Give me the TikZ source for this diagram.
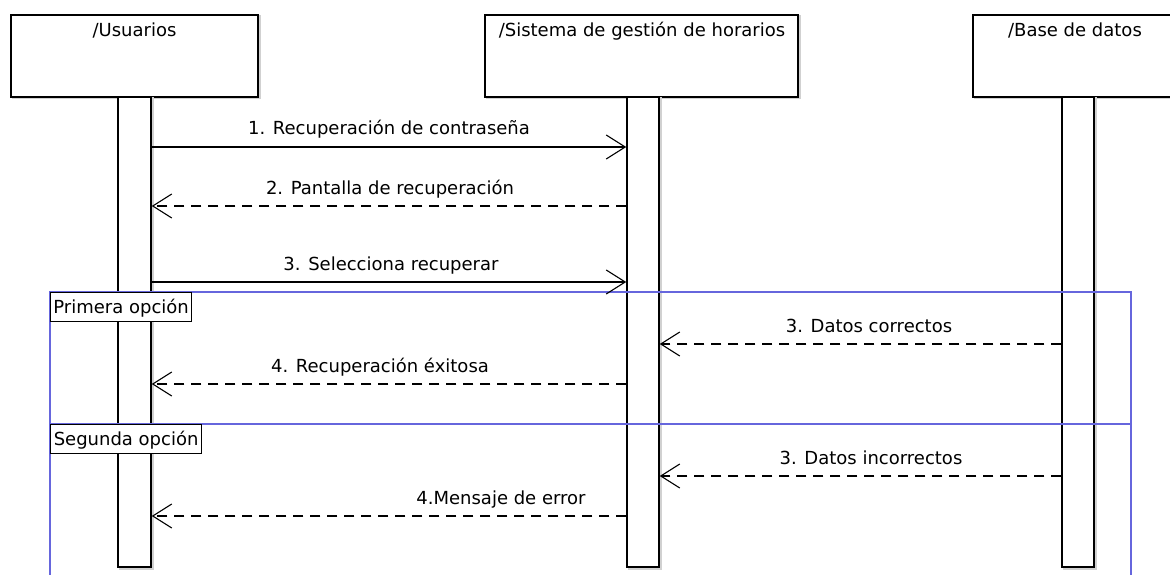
\documentclass[tikz,border=0pt]{standalone}
\usepackage{fontspec}
\setmainfont{DejaVu Sans}
\usetikzlibrary{arrows.meta}
\definecolor{framec}{RGB}{102,102,221}
\begin{document}
\begin{tikzpicture}[x=1pt,y=-1pt,
  font=\fontsize{18}{21}\selectfont,
  shadowed/.style={preaction={draw=black!18, line width=2pt, transform canvas={shift={(1.5pt,-1.5pt)}}}},
  lifebox/.style={draw, line width=1.5pt, fill=white, rectangle, inner sep=0pt, minimum height=82pt, shadowed},
  actbar/.style={draw, line width=1.5pt, fill=white, rectangle, inner sep=0pt, minimum height=470pt, shadowed},
  title/.style={anchor=base, inner sep=0pt},
  lbl/.style={anchor=base, inner sep=0pt},
  optbox/.style={draw, line width=1.2pt, fill=white, anchor=north west, inner xsep=2.5pt, inner ysep=0pt,
                 minimum height=29pt, text height=13pt, text depth=0pt},
  fragment/.style={draw=framec, line width=1.3pt},
  tipv/.style={-{Straight Barb[length=19pt,width=24pt,line width=1.1pt]}},
  msg/.style={line width=1.3pt, tipv},
  reply/.style={line width=1.3pt, tipv, dash pattern=on 10pt off 7pt}]
\useasboundingbox (0,0) rectangle (1170,575);
\clip (0,0) rectangle (1170,575);

% lifeline heads
\node[lifebox, minimum width=247pt] (uBox) at (134.5,56) {};
\node[lifebox, minimum width=313pt] (sBox) at (641.5,56) {};
\node[lifebox, minimum width=204pt] (bBox) at (1075,56) {};
\node[title] (uT) at (134.5,37) {/Usuarios};
\node[title] (sT) at (642,37) {/Sistema de gestión de horarios};
\node[title] (bT) at (1075,37) {/Base de datos};

% activation bars
\node[actbar, minimum width=33pt] (uBar) at (134.5,332) {};
\node[actbar, minimum width=32pt] (sBar) at (643,332) {};
\node[actbar, minimum width=32pt] (bBar) at (1078,332) {};

% combined fragment frame
\coordinate (fTL) at (50,292);
\coordinate (fTR) at (1131,292);
\coordinate (fBL) at (50,580);
\coordinate (fBR) at (1131,580);
\coordinate (dL) at (50,424);
\coordinate (dR) at (1131,424);
\draw[fragment] (fBL) -- (fTL) -- (fTR) -- (fBR);
\draw[fragment] (dL) -- (dR);
\node[optbox, minimum width=141pt] (opt1) at (fTL) {Primera opción};
\node[optbox, minimum width=151pt] (opt2) at (dL) {Segunda opción};

% messages
\draw[msg] (uBar.east |- 0,147) -- (sBar.west |- 0,147);
\node[lbl] (m1) at (389,135) {1. Recuperación de contraseña};
\draw[reply] (sBar.west |- 0,206) -- (uBar.east |- 0,206);
\node[lbl] (m2) at (390,194) {2. Pantalla de recuperación};
\draw[msg] (uBar.east |- 0,282) -- (sBar.west |- 0,282);
\node[lbl] (m3) at (391,270) {3. Selecciona recuperar};
\draw[reply] (bBar.west |- 0,344) -- (sBar.east |- 0,344);
\node[lbl] (m4) at (869,332) {3. Datos correctos};
\draw[reply] (sBar.west |- 0,384) -- (uBar.east |- 0,384);
\node[lbl] (m5) at (380,372) {4. Recuperación éxitosa};
\draw[reply] (bBar.west |- 0,476) -- (sBar.east |- 0,476);
\node[lbl] (m6) at (871,464) {3. Datos incorrectos};
\draw[reply] (sBar.west |- 0,516) -- (uBar.east |- 0,516);
\node[lbl] (m7) at (501,504) {4.Mensaje de error};
\end{tikzpicture}
\end{document}
